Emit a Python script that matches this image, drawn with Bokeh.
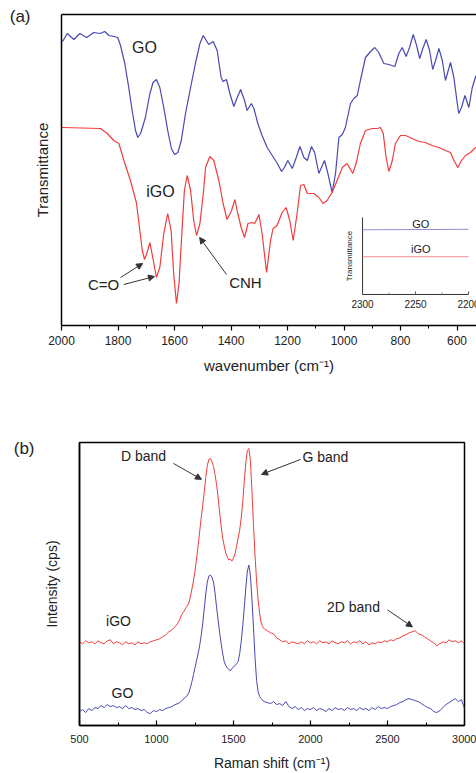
from bokeh.plotting import figure
from bokeh.layouts import column
from bokeh.models import (Range1d, LinearAxis, FixedTicker, SingleIntervalTicker,
                          Arrow, NormalHead)
from bokeh.core.properties import value
from bokeh.embed import file_html
from bokeh.resources import INLINE

FONT = "Liberation Sans"
BLUE = "#4848b4"
RED = "#f23c3c"
INK = "#222222"

# ---------------- FTIR (a) ----------------
go_wn = [2000,1994,1980,1956,1935,1911,1886,1864,1847,1832,1815,1801,1791,1776,1762,1750,1738,1730,1720,1703,
         1687,1676,1664,1652,1638,1624,1611,1600,1588,1576,1561,1543,1526,1510,1498,1479,1463,1449,1435,1428,
         1416,1404,1390,1378,1366,1352,1343,1328,1319,1305,1290,1272,1254,1236,1221,1211,1199,1183,1169,1156,
         1142,1130,1115,1104,1089,1080,1069,1057,1042,1030,1018,1006,995,977,965,953,942,924,906,891,
         877,859,841,820,806,794,780,768,755,743,732,721,709,697,686,676,664,652,641,623,
         611,599,594,584,572,558,546,534,531]
go_t = [284,285,292,286,292,288,293,292,294,290,289,288,280,262,238,215,195,188,192,208,
        232,243,246,238,218,195,177,171,173,185,212,238,262,282,290,281,284,275,248,244,
        246,232,219,228,236,225,215,222,217,202,190,178,170,162,154,158,165,157,168,179,
        168,165,179,173,152,158,165,152,133,152,188,191,198,222,227,230,245,268,274,278,
        273,262,261,259,272,278,269,278,291,280,267,277,286,275,256,265,277,265,245,263,
        248,222,212,218,230,218,238,249,250]

igo_wn = [2000,1994,1862,1838,1815,1797,1779,1756,1735,1724,1714,1706,1697,1687,1677,1664,1652,1638,1624,1612,
          1603,1593,1584,1574,1565,1555,1543,1532,1522,1510,1498,1490,1475,1461,1443,1428,1414,1398,1386,1376,
          1364,1352,1340,1325,1316,1301,1290,1274,1260,1251,1237,1219,1205,1192,1180,1166,1154,1142,1130,1107,
          1089,1074,1060,1042,1020,1006,989,969,957,942,924,900,882,871,861,851,841,829,818,800,
          782,759,735,712,688,664,641,623,611,597,584,570,552,534,531]
igo_t = [198,198,197,192,185,182,165,145,123,98,75,66,73,83,68,48,58,92,112,95,
         52,22,42,92,135,150,135,105,90,102,132,158,169,165,145,122,106,115,126,112,
         98,88,102,103,102,111,92,53,85,97,100,113,118,105,85,112,140,141,132,132,
         128,122,125,133,148,158,162,152,162,182,195,197,197,198,192,168,154,165,182,190,
         190,187,184,183,180,178,175,173,165,158,165,170,173,178,178]

ftir_text = ["GO", "iGO", "C=O", "CNH"]
ftir_text_x = [1706, 1650, 1851, 1349]
ftir_text_y = [278, 134, 41, 43]
ftir_text_size = ["16px", "16px", "15px", "15px"]
# arrows: (x_start, y_start, x_end, y_end)
ftir_arrows = [(1791, 48, 1713, 62), (1780, 41, 1671, 49), (1416, 51, 1511, 88)]

# inset (2300-2200 cm-1)
inset_xlim = [2300, 2200]
inset_ylim = [0, 1]
inset_wn = [2300, 2200]
inset_go = [0.84, 0.846]
inset_igo = [0.49, 0.49]
inset_major = [2300, 2250, 2200]
inset_minor = [2275, 2225]
inset_labels = ["2300", "2250", "2200"]

# ---------------- Raman (b) ----------------
raman_shift = list(range(500, 1150, 20)) + list(range(1150, 1710, 10)) + list(range(1720, 3001, 20))
raman_igo = ([84,82,85,83,84,82,85,83,82,85,86,82,84,83,81,84,82,83,81,84,82,83,82,84,85,86,87,89,91,94,96,99,103]
             + [106,110,113,115,118,120,123,129,137,145,155,167,180,194,208,221,234,249,261,267,268,265,260,252,242,
                229,214,200,188,180,173,169,166,167,165,168,172,180,188,196,208,224,245,264,276,278,265,235,200,170,
                145,126,112,103,99,97]
             + [95,93,92,88,86,84,85,82,84,83,82,84,82,85,83,84,82,85,83,84,82,85,83,82,84,83,85,82,84,83,85,82,84,
                81,83,82,84,83,85,84,86,85,87,88,90,91,93,94,95,92,91,89,87,85,83,80,82,84,83,86,84,85,83,85,82])
raman_go = ([14,16,13,17,15,18,17,20,18,21,19,20,18,19,17,20,17,18,16,17,15,16,13,12,15,14,16,15,17,18,19,21,22]
            + [23,24,26,27,29,30,33,38,44,51,58,65,72,80,90,102,117,132,144,150,151,149,144,133,119,
               106,93,82,72,64,60,58,56,55,57,59,60,62,64,72,84,100,118,138,155,161,150,126,98,68,
               45,34,29,27,25,24]
            + [23,22,24,21,22,20,24,19,17,19,16,18,15,17,16,18,15,17,16,14,17,15,18,16,17,15,18,16,17,15,18,16,17,
               15,18,16,19,17,18,17,19,20,21,23,24,26,27,26,25,24,22,20,18,17,14,13,15,18,21,23,25,27,24,26,17])

raman_text = ["D band", "G band", "2D band", "iGO", "GO"]
raman_text_x = [916, 2097, 2279, 753, 779]
raman_text_y = [270, 269, 119, 105, 33]
raman_arrows = [(1110, 263, 1292, 247), (1935, 267, 1682, 252), (2500, 116, 2662, 99)]


def style_common(p):
    p.grid.visible = False
    p.background_fill_color = "white"
    p.border_fill_color = "white"
    try:
        p.frame_align = False
    except Exception:
        pass
    for ax in p.axis:
        ax.axis_line_color = "black"
        ax.axis_line_width = 1.5
        ax.major_tick_line_color = "black"
        ax.minor_tick_line_color = "black"
        ax.major_tick_line_width = 1.2
        ax.major_label_text_font = FONT
        ax.major_label_text_color = INK
        ax.axis_label_text_font = FONT
        ax.axis_label_text_font_style = "normal"
        ax.axis_label_text_color = INK


def add_text(p, x, y, text, size, **kw):
    p.text(x=[x], y=[y], text=[text], text_font=value(FONT), text_font_size=value(size),
           text_color=INK, text_align="center", text_baseline="middle", **kw)


def add_arrow(p, a):
    x0, y0, x1, y1 = a
    p.add_layout(Arrow(end=NormalHead(size=6, fill_color="#333333", line_color="#333333", line_width=1),
                       x_start=x0, y_start=y0, x_end=x1, y_end=y1,
                       line_color="#333333", line_width=1))


def add_panel_tag(p, text, at, standoff):
    # an outer left axis with no line and no ticks: its only tick label is the panel tag
    tag = LinearAxis(ticker=FixedTicker(ticks=[at]), major_label_overrides={at: text},
                     axis_line_color=None, major_tick_line_color=None, minor_tick_line_color=None,
                     major_tick_in=0, major_tick_out=0, minor_tick_in=0, minor_tick_out=0,
                     major_label_standoff=standoff, major_label_text_font=FONT,
                     major_label_text_font_size="17px", major_label_text_color=INK)
    p.add_layout(tag, "left")


# ---------- panel (a) ----------
pa = figure(width=476, height=380, x_range=Range1d(2000, 531), y_range=Range1d(0, 311),
            output_backend="svg", toolbar_location=None,
            min_border_left=61, min_border_right=0, min_border_top=14, min_border_bottom=55)
pa.outline_line_color = None
top_axis = LinearAxis(ticker=FixedTicker(ticks=[]), major_tick_in=0, major_tick_out=0,
                      minor_tick_in=0, minor_tick_out=0, major_label_text_font_size="0px")
pa.add_layout(top_axis, "above")

pa.line(go_wn, go_t, line_color=BLUE, line_width=1.2)
pa.line(igo_wn, igo_t, line_color=RED, line_width=1.2)

pa.xaxis.ticker = SingleIntervalTicker(interval=200, num_minor_ticks=2)
pa.yaxis.ticker = FixedTicker(ticks=[])
style_common(pa)
xa = pa.below[0]
xa.major_tick_in = 0
xa.major_tick_out = 5
xa.minor_tick_in = 0
xa.minor_tick_out = 3
xa.major_label_text_font_size = "12px"
xa.major_label_standoff = 5
xa.axis_label = "wavenumber (cm\u207b\u00b9)"
xa.axis_label_text_font_size = "15px"
xa.axis_label_standoff = 9
ya = pa.left[0]
ya.major_tick_in = 0
ya.major_tick_out = 0
ya.minor_tick_in = 0
ya.minor_tick_out = 0
ya.major_label_standoff = 0
ya.axis_label = "Transmittance"
ya.axis_label_text_font_size = "15px"
ya.axis_label_standoff = 11
add_panel_tag(pa, "(a)", 309, 0)

for t, x, y, s in zip(ftir_text, ftir_text_x, ftir_text_y, ftir_text_size):
    add_text(pa, x, y, t, s)
for a in ftir_arrows:
    add_arrow(pa, a)

# inset
pa.extra_x_ranges = {"ix": Range1d(2584, 2192.5)}
pa.extra_y_ranges = {"iy": Range1d(-0.403, 3.636)}
ik = dict(x_range_name="ix", y_range_name="iy")
pa.line([inset_xlim[0], inset_xlim[0]], inset_ylim, line_color="#333333", line_width=1, **ik)
pa.line(inset_xlim, [inset_ylim[0], inset_ylim[0]], line_color="#333333", line_width=1, **ik)
pa.segment(x0=inset_major, y0=[0] * 3, x1=inset_major, y1=[0.04] * 3, line_color="#555555", line_width=1, **ik)
pa.segment(x0=inset_minor, y0=[0] * 2, x1=inset_minor, y1=[0.025] * 2, line_color="#888888", line_width=1, **ik)
pa.line(inset_wn, inset_go, line_color="#9090d4", line_width=1, **ik)
pa.line(inset_wn, inset_igo, line_color="#f08c8c", line_width=1, **ik)
pa.text(x=inset_major, y=[-0.13] * 3, text=inset_labels, text_font=value(FONT), text_font_size=value("10px"),
        text_color=INK, text_align="center", text_baseline="middle", **ik)
add_text(pa, 2245, 0.91, "GO", "11px", **ik)
add_text(pa, 2245, 0.585, "iGO", "11px", **ik)
pa.text(x=[2312], y=[0.5], text=["Transmittance"], angle=1.5708, text_font=value(FONT),
        text_font_size=value("8px"), text_color=INK, text_align="center", text_baseline="middle", **ik)

# ---------- panel (b) ----------
pb = figure(width=476, height=393, x_range=Range1d(500, 3000), y_range=Range1d(0, 284),
            output_backend="svg", toolbar_location=None,
            min_border_left=79, min_border_right=12, min_border_top=62, min_border_bottom=47)
pb.outline_line_color = "black"
pb.outline_line_width = 1.5
pb.line(raman_shift, raman_igo, line_color=RED, line_width=1)
pb.line(raman_shift, raman_go, line_color=BLUE, line_width=1)
pb.xaxis.ticker = SingleIntervalTicker(interval=500, num_minor_ticks=2)
pb.yaxis.ticker = FixedTicker(ticks=[])
style_common(pb)
xb = pb.below[0]
xb.major_tick_in = 5
xb.major_tick_out = 0
xb.minor_tick_in = 3
xb.minor_tick_out = 0
xb.major_label_text_font_size = "11px"
xb.major_label_standoff = 9
xb.axis_label = "Raman shift (cm\u207b\u00b9)"
xb.axis_label_text_font_size = "14px"
xb.axis_label_standoff = 9
yb = pb.left[0]
yb.major_tick_in = 0
yb.major_tick_out = 0
yb.minor_tick_in = 0
yb.minor_tick_out = 0
yb.major_label_standoff = 0
yb.axis_label = "Intensity (cps)"
yb.axis_label_text_font_size = "14px"
yb.axis_label_standoff = 20
add_panel_tag(pb, "(b)", 278, 6)

for t, x, y in zip(raman_text, raman_text_x, raman_text_y):
    add_text(pb, x, y, t, "14px")
for a in raman_arrows:
    add_arrow(pb, a)

layout = column(pa, pb, spacing=0)
open("out.html", "w").write(file_html(layout, INLINE))
